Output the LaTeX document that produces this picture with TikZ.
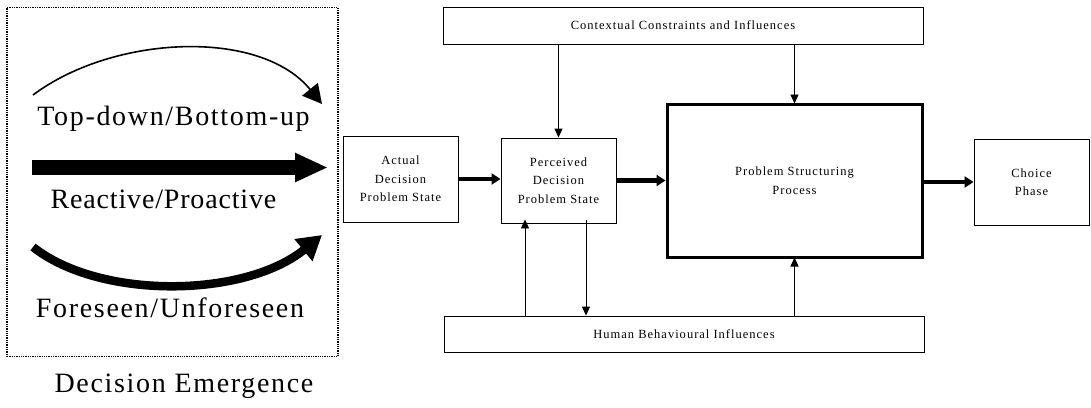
\documentclass[tikz,border=0pt]{standalone}
\usepackage{fontspec}
\setmainfont{Liberation Serif}
\newfontfamily\bigserif[LetterSpace=6]{Liberation Serif}
\newfontfamily\bigserifnarrow[LetterSpace=3]{Liberation Serif}
\newfontfamily\smallserif[LetterSpace=8]{Liberation Serif}
\usetikzlibrary{arrows.meta}
\begin{document}
\begin{tikzpicture}[x=1pt,y=-1pt,
  box/.style={draw, line width=0.9pt, align=center, inner sep=0pt,
    font=\smallserif\fontsize{12.5}{18.5}\selectfont},
  bigbox/.style={box, line width=3pt},
  bigtext/.style={anchor=base, inner sep=0pt, font=\bigserif\fontsize{28}{32}\selectfont},
  thin/.style={line width=0.9pt, -{Triangle[length=9pt,width=8pt]}},
  thick/.style={line width=4.5pt, -{Triangle[length=9pt,width=11pt]}},
  frame/.style={draw, line width=1.3pt, densely dotted}
]
\useasboundingbox (0,0) rectangle (1091,407);

% dotted frame around the emergence modes
\node[frame, minimum width=331pt, minimum height=349pt, inner sep=0pt] (frm) at (172.5,182) {};

% curved and straight emergence arrows
\coordinate (a1s) at (33,95);  \coordinate (a1e) at (322,104);
\coordinate (a2s) at (32,167.5); \coordinate (a2e) at (328,167.5);
\coordinate (a3s) at (33,247); \coordinate (a3e) at (322,235);
\draw[line width=1.6pt, -{Triangle[length=19pt,width=20pt]}]
  (a1s) .. controls (113,35) and (260,28) .. (a1e);
\draw[line width=15pt, -{Triangle[length=33pt,width=27pt]}] (a2s) -- (a2e);
\draw[line width=8.5pt, -{Triangle[length=24pt,width=27pt]}]
  (a3s) .. controls (100,300) and (245,298) .. (a3e);

\node[bigtext] (t1) at (173.5,125) {Top-down/Bottom-up};
\node[bigtext, font=\bigserifnarrow\fontsize{28}{32}\selectfont] (t2) at (163.5,208) {Reactive/Proactive};
\node[bigtext] (t3) at (170,317) {Foreseen/Unforeseen};
\node[bigtext] (t4) at (184,392) {Decision Emergence};

% process boxes
\node[box, minimum width=480pt, minimum height=37pt] (ctx) at (683,25.5) {Contextual Constraints and Influences};
\node[box, minimum width=115pt, minimum height=86pt] (act) at (400.5,179) {Actual\\Decision\\Problem State};
\node[box, minimum width=115pt, minimum height=85pt] (perc) at (558.5,180.5) {Perceived\\Decision\\Problem State};
\node[bigbox, minimum width=255pt, minimum height=153pt] (psp) at (794.5,180.5) {Problem Structuring\\Process};
\node[box, minimum width=115pt, minimum height=86pt] (cho) at (1031.5,182) {Choice\\Phase};
\node[box, minimum width=480pt, minimum height=36pt] (hum) at (684,334) {Human Behavioural Influences};

% main flow
\draw[thick] (act.east) -- (perc.west |- act.east);
\draw[thick] (perc.east) -- (psp.west |- perc.east);
\draw[thick] (psp.east |- cho.west) -- (cho.west);

% influences
\draw[thin] (perc.north |- ctx.south) -- (perc.north);
\draw[thin] (psp.north |- ctx.south) -- ([yshift=-1pt]psp.north);
\draw[thin] ([xshift=-33.5pt]perc.south |- hum.north) -- ([xshift=-33.5pt,yshift=4pt]perc.south);
\draw[thin] ([xshift=27.5pt,yshift=3pt]perc.south) -- ([xshift=27.5pt]perc.south |- hum.north);
\draw[thin] (psp.south |- hum.north) -- ([yshift=1pt]psp.south);
\end{tikzpicture}
\end{document}
